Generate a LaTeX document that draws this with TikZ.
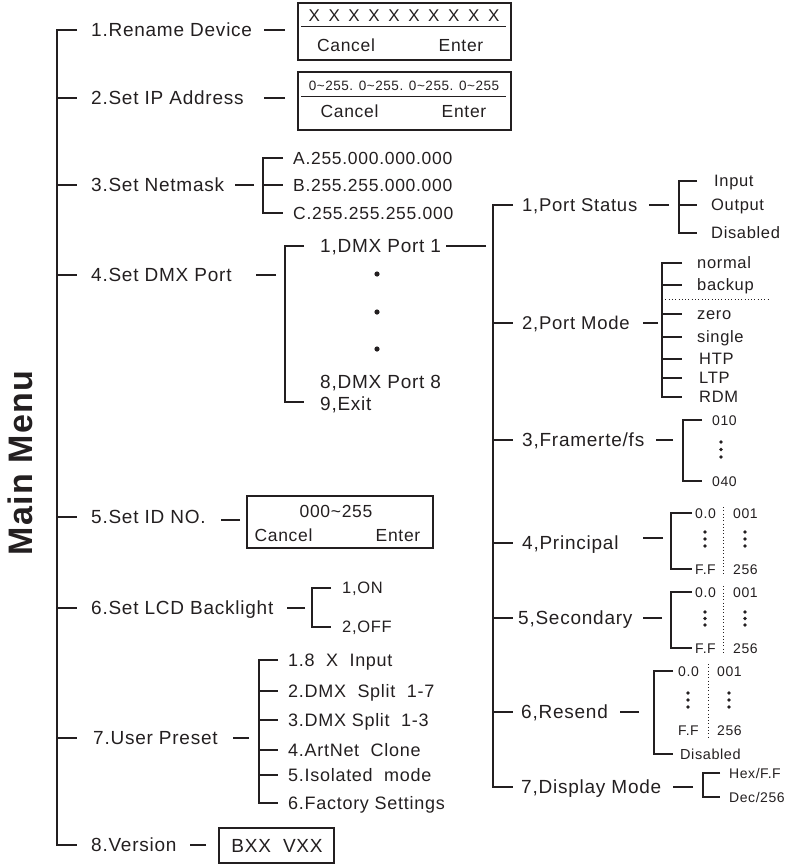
\documentclass[tikz,border=0pt]{standalone}
\usepackage{fontspec}
\newfontfamily\menufont[LetterSpace=4]{Liberation Sans}
\definecolor{ink}{HTML}{231F20}
\newcommand\szbig{\fontsize{34}{36}\selectfont}
\newcommand\szmain{\fontsize{19}{21}\selectfont}
\newcommand\szport{\fontsize{18.5}{20}\selectfont}
\newcommand\szitem{\fontsize{18}{20}\selectfont}
\newcommand\szmask{\fontsize{17.5}{19}\selectfont}
\newcommand\szsub{\fontsize{16.5}{18}\selectfont}
\newcommand\szbox{\fontsize{17.5}{19}\selectfont}
\newcommand\szsml{\fontsize{14}{16}\selectfont}
\newcommand\xgap{\hspace{8.6pt}}
\newdimen\menulw
\menulw=1.9pt
\begin{document}
\begin{tikzpicture}[x=1pt,y=-1pt,
  lbl/.style={anchor=west,inner sep=0pt,text height=13.6pt,text depth=0pt,text=ink,font=\menufont\szmain},
  portlbl/.style={lbl,text height=13.2pt,font=\menufont\szport},
  item/.style={lbl,text height=12.9pt,font=\menufont\szitem},
  mask/.style={lbl,text height=12.5pt,font=\menufont\szmask},
  sub/.style={lbl,text height=11.8pt,font=\menufont\szsub},
  sml/.style={lbl,text height=10pt,font=\menufont\szsml},
  ctr/.style={lbl,anchor=center},
  boxtxt/.style={ctr,text height=12.5pt,font=\menufont\szbox},
  box/.style={draw=ink,line width=1.6pt,inner sep=0pt},
  rule/.style={draw=ink,line width=1.3pt},
  wire/.style={draw=ink,line width=\menulw},
  dotline/.style={draw=ink,line width=0.9pt,dash pattern=on 0.9pt off 2.4pt}]
% menu tree, coordinates in px of the 790x865 sheet
\useasboundingbox (0,0) rectangle (790,865);
\node[ctr,rotate=90,text height=24.3pt,font=\menufont\bfseries\szbig] (mm) at (20,463) {Main Menu};
\coordinate (mspine) at (57,30);
\node[lbl] (ren) at (91,30) {1.Rename Device};
\node[lbl] (ip) at (91,98) {2.Set IP Address};
\node[lbl] (nm) at (91,185) {3.Set Netmask};
\node[lbl] (dmx) at (91,275) {4.Set DMX Port};
\node[lbl] (id) at (91,517) {5.Set ID NO.};
\node[lbl] (lcd) at (91,608) {6.Set LCD Backlight};
\node[lbl] (usr) at (93,738) {7.User Preset};
\node[lbl] (ver) at (91,845) {8.Version};
\draw[wire] (mspine |- ren.west) ++(20,0) -- (mspine |- ren.west)
 -- (mspine |- ver.west) -- ++(20,0);
\draw[wire] (mspine |- ip.west) -- ++(20,0);
\draw[wire] (mspine |- nm.west) -- ++(20,0);
\draw[wire] (mspine |- dmx.west) -- ++(20,0);
\draw[wire] (mspine |- id.west) -- ++(20,0);
\draw[wire] (mspine |- lcd.west) -- ++(20,0);
\draw[wire] (mspine |- usr.west) -- ++(20,0);
% 1 rename box
\node[box,minimum width=213pt,minimum height=57pt] (renbox) at (404.5,31.5) {};
\draw[rule] (renbox.north west) ++(4,24) -- ++(205,0);
\node[boxtxt,font=\menufont\fontsize{17}{19}\selectfont,text height=12.2pt] (renx) at (404,15)
 {X\xgap X\xgap X\xgap X\xgap X\xgap X\xgap X\xgap X\xgap X\xgap X};
\node[boxtxt] (renc) at (346,45) {Cancel};
\node[boxtxt] (rene) at (461,45) {Enter};
\draw[wire] (renbox.west |- ren.east) ++(-12,0) -- ++(-21,0);
% 2 ip box
\node[box,minimum width=213pt,minimum height=58pt] (ipbox) at (404.5,101) {};
\draw[rule] (ipbox.north west) ++(4,25) -- ++(205,0);
\node[ctr,text height=9.7pt,font=\menufont\fontsize{13.5}{15}\selectfont] (ipv) at (404,86)
 {0\textasciitilde255. 0\textasciitilde255. 0\textasciitilde255. 0\textasciitilde255};
\node[boxtxt] (ipc) at (349.5,111) {Cancel};
\node[boxtxt] (ipe) at (464,111) {Enter};
\draw[wire] (ipbox.west |- ip.east) ++(-12,0) -- ++(-21,0);
% 3 netmask
\coordinate (nmsp) at (263,158);
\node[mask] (nma) at (293,158) {A.255.000.000.000};
\node[mask] (nmb) at (293,185) {B.255.255.000.000};
\node[mask] (nmc) at (293,213) {C.255.255.255.000};
\draw[wire] (nma.west) ++(-10,0) -- (nmsp |- nma.west) -- (nmsp |- nmc.west) -- ++(20,0);
\draw[wire] (nmsp |- nmb.west) -- ++(20,0);
\draw[wire] (nmsp |- nm.east) ++(-9,0) -- ++(-19,0);
% 4 dmx ports
\coordinate (dxsp) at (285,246);
\node[lbl] (p1) at (320,246) {1,DMX Port 1};
\node[lbl] (p8) at (320,382) {8,DMX Port 8};
\node[lbl] (px) at (320,404) {9,Exit};
\draw[wire] (p1.west) ++(-16,0) -- (dxsp |- p1.west) -- (dxsp |- 0,402) -- ++(19,0);
\draw[wire] (dxsp |- dmx.east) ++(-9,0) -- ++(-20,0);
\fill[ink] (377,274) circle (2.6);
\fill[ink] (377,312) circle (2.6);
\fill[ink] (377,349) circle (2.6);
% port settings
\coordinate (rsp) at (493,205);
\draw[wire] (rsp |- p1.east) ++(-7,0) -- ++(-40,0);
\node[portlbl] (ps) at (522,205) {1,Port Status};
\node[portlbl] (pm) at (522,323) {2,Port Mode};
\node[lbl] (fr) at (522,440) {3,Framerte/fs};
\node[lbl] (pr) at (522,543) {4,Principal};
\node[lbl] (se) at (518,618) {5,Secondary};
\node[lbl] (rs) at (521,712) {6,Resend};
\node[lbl] (dm) at (521,787) {7,Display Mode};
\draw[wire] (ps.west) ++(-9,0) -- (rsp |- ps.west) -- (rsp |- dm.west) -- ++(20,0);
\draw[wire] (rsp |- pm.west) -- ++(20,0);
\draw[wire] (rsp |- fr.west) -- ++(20,0);
\draw[wire] (rsp |- pr.west) -- ++(20,0);
\draw[wire] (rsp |- se.west) -- ++(20,0);
\draw[wire] (rsp |- rs.west) -- ++(20,0);
% port status
\coordinate (pssp) at (679,181);
\node[sub] (pin) at (714,181) {Input};
\node[sub] (pout) at (711,205) {Output};
\node[sub] (pdis) at (711,233) {Disabled};
\draw[wire] (pssp |- pin.west) ++(18,0) -- (pssp |- pin.west) -- (pssp |- pdis.west) -- ++(18,0);
\draw[wire] (pssp |- pout.west) -- ++(18,0);
\draw[wire] (pssp |- ps.east) ++(-10,0) -- ++(-20,0);
% port mode
\coordinate (pmsp) at (662,263);
\node[sub] (pmn) at (697,263) {normal};
\node[sub] (pmb) at (697,285) {backup};
\node[sub] (pmz) at (697,314) {zero};
\node[sub] (pms) at (697,337) {single};
\node[sub] (pmh) at (699,359) {HTP};
\node[sub] (pml) at (699,378) {LTP};
\node[sub] (pmr) at (699,397) {RDM};
\draw[wire] (pmsp |- pmn.west) ++(20,0) -- (pmsp |- pmn.west) -- (pmsp |- pmr.west) -- ++(20,0);
\draw[wire] (pmsp |- pmb.west) -- ++(20,0);
\draw[wire] (pmsp |- pmz.west) -- ++(20,0);
\draw[wire] (pmsp |- pms.west) -- ++(20,0);
\draw[wire] (pmsp |- pmh.west) -- ++(20,0);
\draw[wire] (pmsp |- pml.west) -- ++(20,0);
\path (pmb.west) -- (pmz.west) coordinate[pos=0.5] (pmcut);
\draw[dotline] (pmsp |- pmcut) -- ++(106,0);
\draw[wire] (pmsp |- pm.east) ++(-4,0) -- ++(-15,0);
% framerate
\coordinate (frsp) at (683,420);
\node[sml] (f10) at (712,420) {010};
\node[sml] (f40) at (712,481) {040};
\draw[wire] (f10.west) ++(-10,0) -- (frsp |- f10.west) -- (frsp |- f40.west) -- ++(19,0);
\fill[ink] (721,442) circle (1.8);
\fill[ink] (721,449.5) circle (1.8);
\fill[ink] (721,457) circle (1.8);
\draw[wire] (frsp |- fr.east) ++(-10,0) -- ++(-17,0);
% principal
\coordinate (prsp) at (671,513);
\node[sml] (pr00) at (695,513) {0.0};
\node[sml] (pr01) at (733,513) {001};
\node[sml] (prff) at (695,569) {F.F};
\node[sml] (pr56) at (733,569) {256};
\draw[wire] (pr00.west) ++(-3,0) -- (prsp |- pr00.west) -- (prsp |- prff.west) -- ++(21,0);
\draw[dotline] (723,507) -- (723,575);
\fill[ink] (705,532) circle (1.8);
\fill[ink] (705,539) circle (1.8);
\fill[ink] (705,546) circle (1.8);
\fill[ink] (745,532) circle (1.8);
\fill[ink] (745,539) circle (1.8);
\fill[ink] (745,546) circle (1.8);
\draw[wire] (prsp |- 0,538) ++(-8,0) -- ++(-20,0);
% secondary
\coordinate (sesp) at (671,592);
\node[sml] (se00) at (695,592) {0.0};
\node[sml] (se01) at (733,592) {001};
\node[sml] (seff) at (695,648) {F.F};
\node[sml] (se56) at (733,648) {256};
\draw[wire] (se00.west) ++(-3,0) -- (sesp |- se00.west) -- (sesp |- seff.west) -- ++(21,0);
\draw[dotline] (723,586) -- (723,654);
\fill[ink] (705,612) circle (1.8);
\fill[ink] (705,618.5) circle (1.8);
\fill[ink] (705,625) circle (1.8);
\fill[ink] (745,612) circle (1.8);
\fill[ink] (745,618.5) circle (1.8);
\fill[ink] (745,625) circle (1.8);
\draw[wire] (sesp |- se.east) ++(-9,0) -- ++(-19,0);
% resend
\coordinate (rssp) at (654,671);
\node[sml] (rs00) at (678,671) {0.0};
\node[sml] (rs01) at (717,671) {001};
\node[sml] (rsff) at (678,730) {F.F};
\node[sml] (rs56) at (717,730) {256};
\node[sml,font=\menufont\fontsize{14.5}{16}\selectfont,text height=10.4pt] (rsdis) at (680,754) {Disabled};
\draw[wire] (rs00.west) ++(-5,0) -- (rssp |- rs00.west) -- (rssp |- rsdis.west) -- ++(19,0);
\draw[dotline] (708,664) -- (708,737);
\fill[ink] (688,693) circle (1.8);
\fill[ink] (688,700) circle (1.8);
\fill[ink] (688,707) circle (1.8);
\fill[ink] (729,693) circle (1.8);
\fill[ink] (729,700) circle (1.8);
\fill[ink] (729,707) circle (1.8);
\draw[wire] (rssp |- rs.east) ++(-15,0) -- ++(-19,0);
% display mode
\coordinate (dmsp) at (703,773);
\node[sml] (dmh) at (729,773) {Hex/F.F};
\node[sml] (dmd) at (729,797) {Dec/256};
\draw[wire] (dmh.west) ++(-9,0) -- (dmsp |- dmh.west) -- (dmsp |- dmd.west) -- ++(17,0);
\draw[wire] (dmsp |- dm.east) ++(-10,0) -- ++(-20,0);
% 5 id box
\node[box,minimum width=186pt,minimum height=52pt] (idbox) at (340,522) {};
\node[boxtxt] (idv) at (336,511) {000\textasciitilde255};
\node[boxtxt] (idc) at (283.5,535) {Cancel};
\node[boxtxt] (ide) at (398,535) {Enter};
\draw[wire] (idbox.west |- 0,520) ++(-6,0) -- ++(-19,0);
% 6 backlight
\coordinate (lcsp) at (312,588);
\node[sub] (on) at (342,588) {1,ON};
\node[sub] (off) at (342,627) {2,OFF};
\draw[wire] (on.west) ++(-11,0) -- (lcsp |- on.west) -- (lcsp |- off.west) -- ++(19,0);
\draw[wire] (lcsp |- lcd.east) ++(-7,0) -- ++(-18,0);
% 7 user preset
\coordinate (ussp) at (259,660);
\node[item] (u1) at (288,660) {1.8\ \ X\ \ Input};
\node[item] (u2) at (288,691) {2.DMX\ \ Split\ \ 1-7};
\node[item] (u3) at (288,720) {3.DMX Split\ \ 1-3};
\node[item] (u4) at (288,750) {4.ArtNet\ \ Clone};
\node[item] (u5) at (288,775) {5.Isolated\ \ mode};
\node[item] (u6) at (288,803) {6.Factory Settings};
\draw[wire] (u1.west) ++(-10,0) -- (ussp |- u1.west) -- (ussp |- u6.west) -- ++(19,0);
\draw[wire] (ussp |- u2.west) -- ++(19,0);
\draw[wire] (ussp |- u3.west) -- ++(19,0);
\draw[wire] (ussp |- u4.west) -- ++(19,0);
\draw[wire] (ussp |- u5.west) -- ++(19,0);
\draw[wire] (ussp |- usr.east) ++(-10,0) -- ++(-16,0);
% 8 version box
\node[box,minimum width=115pt,minimum height=35pt] (verbox) at (276.5,845.5) {};
\node[ctr] (verv) at (277,846) {BXX\ \ VXX};
\draw[wire] (verbox.west |- ver.east) ++(-12,0) -- ++(-16,0);
\end{tikzpicture}
\end{document}
